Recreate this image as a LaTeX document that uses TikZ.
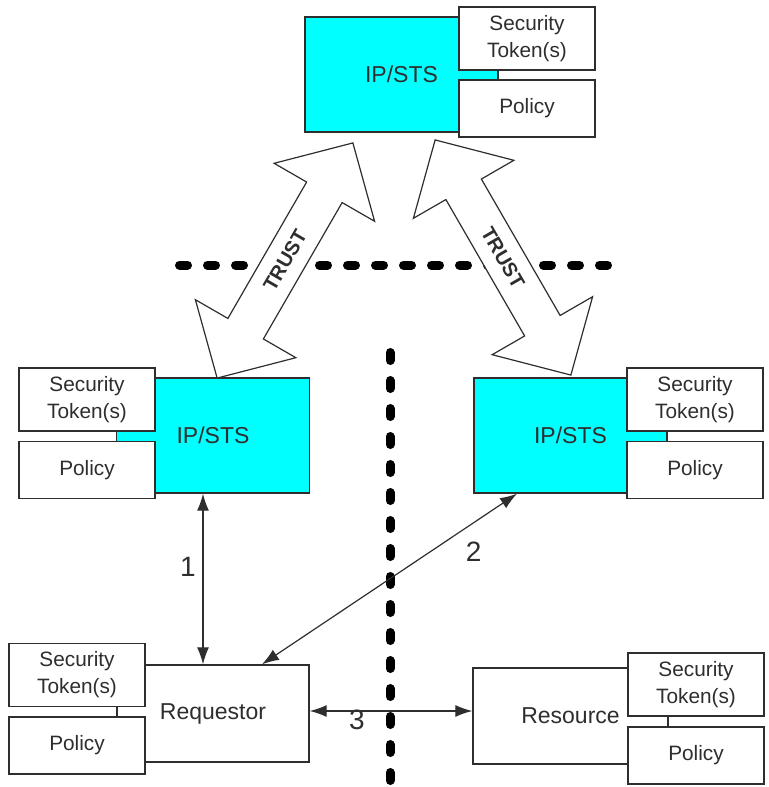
\documentclass[tikz,border=0pt]{standalone}
\usepackage{fontspec}
\setmainfont{Liberation Sans}
\usetikzlibrary{arrows.meta}
\definecolor{stscyan}{HTML}{00FFFF}
\definecolor{ink}{HTML}{2E2E2E}
\newcommand{\trustarrow}[3]{
\begin{scope}[shift={#1},rotate=#2]
\filldraw[fill=white,draw=ink,line width=0.6pt] (135.75,0) -- (78.75,58) -- (78.75,20.5) -- (-78.75,20.5) -- (-78.75,58) -- (-135.75,0) -- (-78.75,-58) -- (-78.75,-20.5) -- (78.75,-20.5) -- (78.75,-58) -- cycle;
\node[trust,rotate=#2] (#3) at (0,0) {TRUST};
\end{scope}
}
\tikzset{
box/.style={draw=ink,line width=0.7pt,inner sep=0pt,text=ink},
sts/.style={box,fill=stscyan,minimum width=96.5pt,minimum height=57.5pt,font=\fontsize{11.5}{14}\selectfont},
mainbox/.style={box,fill=white,minimum height=48.5pt,font=\fontsize{11.5}{14}\selectfont},
sidebox/.style={box,fill=white,minimum width=68pt,align=center,font=\fontsize{10.4}{13.5}\selectfont},
tok/.style={sidebox,minimum height=31.5pt},
pol/.style={sidebox,minimum height=28.5pt},
trust/.style={text=ink,font=\fontsize{10}{11}\selectfont\bfseries},
divider/.style={line width=4.5pt,dash pattern=on 4pt off 10pt,line cap=round},
link/.style={{Latex[length=8.5pt,width=6pt]}-{Latex[length=8.5pt,width=6pt]},draw=ink,line width=0.6pt},
num/.style={text=ink,font=\fontsize{14}{16}\selectfont}
}

\begin{document}
\begin{tikzpicture}[x=0.5pt,y=-0.5pt]
\useasboundingbox (0,0) rectangle (768,787);
\draw[divider] (179.5,265) -- (608,265);
\draw[divider] (390,352.5) -- (390,784);
\node[sts] (stsT) at (401.5,74.5) {IP/STS};
\node[tok] (tokT) at (527,38.5) {Security\\Token(s)};
\node[pol] (polT) at (527,108.5) {Policy};
\node[sts] (stsL) at (213,435.5) {IP/STS};
\node[tok] (tokL) at (87,399.5) {Security\\Token(s)};
\node[pol] (polL) at (87,470) {Policy};
\node[sts] (stsR) at (570.5,435.5) {IP/STS};
\node[tok] (tokR) at (695,399.5) {Security\\Token(s)};
\node[pol] (polR) at (695,470) {Policy};
\node[mainbox,minimum width=96pt] (req) at (213,713.5) {Requestor};
\node[tok] (tokQ) at (77,675) {Security\\Token(s)};
\node[pol] (polQ) at (77,745.5) {Policy};
\node[mainbox,minimum width=97.5pt,minimum height=48pt] (res) at (570.5,716) {Resource};
\node[tok] (tokS) at (696,684.5) {Security\\Token(s)};
\node[pol] (polS) at (696,755.5) {Policy};
\trustarrow{(285,260.5)}{60}{trustL};
\trustarrow{(503,257.5)}{-60}{trustR};
\draw[link] ([xshift=-5pt]stsL.south) -- ([xshift=-5pt]req.north) node[num,pos=0.43,left] {1};
\draw[link] ([xshift=24.5pt]req.north) -- ([xshift=-26.75pt]stsR.south) node[num,pos=0.83,below=6pt] {2};
\draw[link] ([yshift=1.25pt]req.east) -- ([yshift=1.25pt]req.east -| res.west) node[num,pos=0.29,below=-4pt] {3};
\end{tikzpicture}
\end{document}
